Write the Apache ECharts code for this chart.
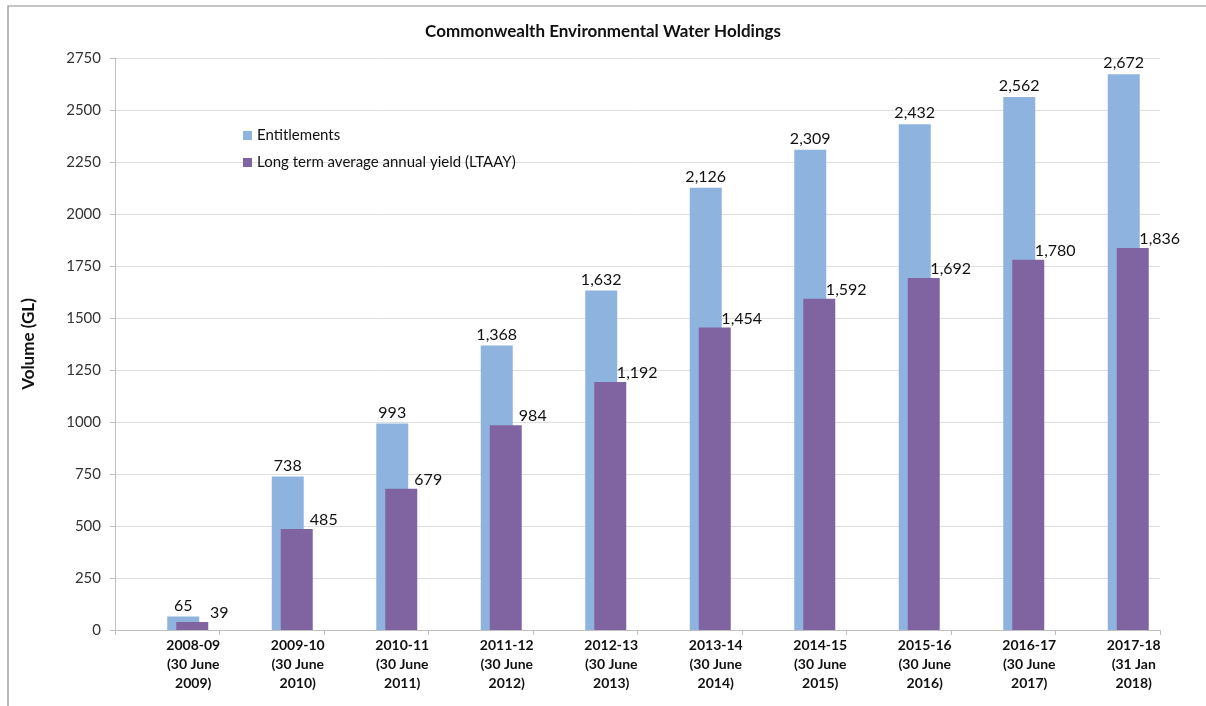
<!DOCTYPE html>
<html>
<head>
<meta charset="utf-8">
<script src="https://cdn.jsdelivr.net/npm/echarts@6/dist/echarts.min.js"></script>
<style>html,body{margin:0;padding:0;background:#fff;}#c{width:1206px;height:706px;}</style>
</head>
<body>
<div id="c"></div>
<script>
const categories = [
  "2008-09\n(30 June\n2009)", "2009-10\n(30 June\n2010)", "2010-11\n(30 June\n2011)",
  "2011-12\n(30 June\n2012)", "2012-13\n(30 June\n2013)", "2013-14\n(30 June\n2014)",
  "2014-15\n(30 June\n2015)", "2015-16\n(30 June\n2016)", "2016-17\n(30 June\n2017)",
  "2017-18\n(31 Jan\n2018)"
];
const entitlements = [65, 738, 993, 1368, 1632, 2126, 2309, 2432, 2562, 2672];
const ltaay = [39, 485, 679, 984, 1192, 1454, 1592, 1692, 1780, 1836];
const yMin = 0, yMax = 2750, yStep = 250;

const font = 'Lato, "Open Sans", sans-serif';
const fmt = p => Number(p.value).toLocaleString('en-US');

const chart = echarts.init(document.getElementById('c'), null, {renderer: 'canvas'});
chart.setOption({
  animation: false,
  backgroundColor: '#fff',
  textStyle: {fontFamily: font},
  graphic: [{
    type: 'rect', shape: {x: 8, y: 6, width: 1220, height: 720},
    style: {fill: 'none', stroke: '#8c8c8c', lineWidth: 1.2}, silent: true, z: -1
  }],
  title: {
    text: 'Commonwealth Environmental Water Holdings',
    left: 'center', top: 18,
    textStyle: {fontFamily: font, fontSize: 17, fontWeight: 'bold', color: '#111'}
  },
  legend: {
    orient: 'vertical', left: 238, top: 123,
    itemWidth: 9, itemHeight: 9, itemGap: 12,
    icon: 'rect',
    textStyle: {fontFamily: font, fontSize: 15, color: '#111'},
    data: ['Entitlements', 'Long term average annual yield (LTAAY)']
  },
  grid: [
    {left: 115, right: 46, top: 58, bottom: 76},
    {left: 135.5, right: 25.5, top: 58, bottom: 76}
  ],
  xAxis: [
    {
      type: 'category', gridIndex: 0, data: categories, boundaryGap: true,
      axisLine: {lineStyle: {color: '#bfbfbf'}},
      axisTick: {show: true, length: 5, lineStyle: {color: '#bfbfbf'}},
      axisLabel: {
        interval: 0, margin: 6, fontFamily: font, fontSize: 14, fontWeight: 'bold',
        color: '#111', lineHeight: 19, padding: [0, 0, 0, 52]
      }
    },
    {
      type: 'category', gridIndex: 1, data: categories,
      show: false
    }
  ],
  yAxis: [
    {
      type: 'value', gridIndex: 0, min: yMin, max: yMax, interval: yStep,
      name: 'Volume (GL)', nameLocation: 'middle', nameGap: 78, nameRotate: 90,
      nameTextStyle: {fontFamily: font, fontSize: 17, fontWeight: 'bold', color: '#111'},
      axisLine: {show: true, lineStyle: {color: '#bfbfbf'}},
      axisTick: {show: true, length: 5, lineStyle: {color: '#bfbfbf'}},
      axisLabel: {margin: 14, fontFamily: font, fontSize: 15, color: '#333',
                  formatter: v => String(v)},
      splitLine: {lineStyle: {color: '#dedede'}}
    },
    {
      type: 'value', gridIndex: 1, min: yMin, max: yMax, interval: yStep, show: false,
      splitLine: {show: false}
    }
  ],
  series: [
    {
      name: 'Entitlements', type: 'bar', xAxisIndex: 1, yAxisIndex: 1,
      data: entitlements, barWidth: 32, barGap: '-71.875%',
      itemStyle: {color: '#8fb3df'},
      label: {show: true, position: 'top', distance: 3, formatter: fmt,
              fontFamily: font, fontSize: 16, color: '#111'}
    },
    {
      name: 'Long term average annual yield (LTAAY)', type: 'bar', xAxisIndex: 1, yAxisIndex: 1,
      data: ltaay, barWidth: 32, barGap: '-71.875%',
      itemStyle: {color: '#8064a2'},
      label: {show: true, position: 'top', distance: 2, offset: [27, 1], formatter: fmt,
              fontFamily: font, fontSize: 16, color: '#111'}
    }
  ]
});
</script>
</body>
</html>
